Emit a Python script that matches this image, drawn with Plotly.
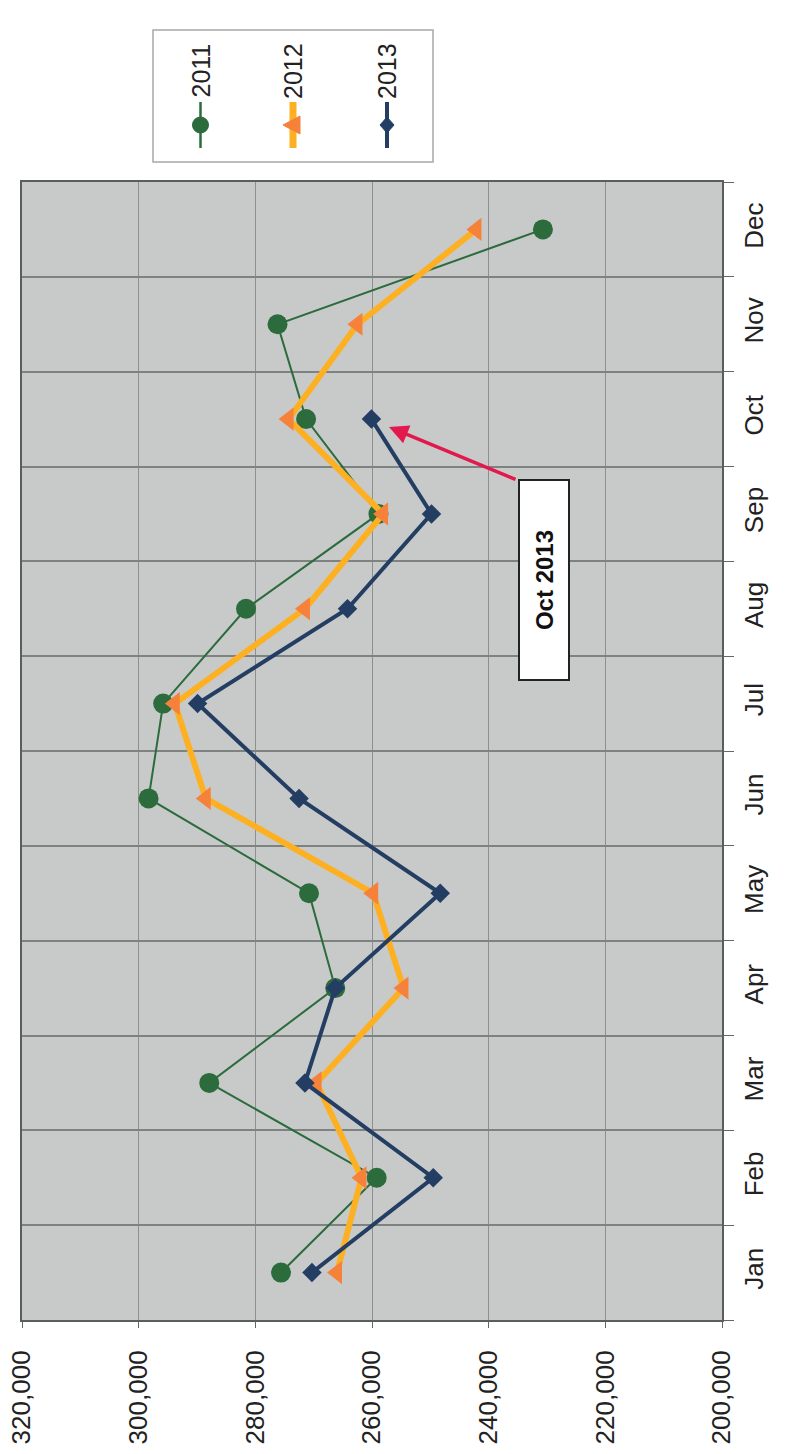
import plotly.graph_objects as go

months = ["Jan", "Feb", "Mar", "Apr", "May", "Jun", "Jul", "Aug", "Sep", "Oct", "Nov", "Dec"]
v2011 = [275600, 259200, 287900, 266300, 270800, 298300, 295800, 281600, 258900, 271300, 276200, 230700]
v2012 = [266000, 261800, 269500, 254600, 259800, 288500, 293800, 271500, 258100, 274300, 262500, 242100]
v2013 = [270300, 249500, 271500, 266300, 248300, 272500, 289900, 264200, 249800, 260100, None, None]
value_ticks = [200000, 220000, 240000, 260000, 280000, 300000, 320000]
series_names = ["2011", "2012", "2013"]

GREEN = "#2B6B3C"
ORANGE_LINE = "#FDB022"
ORANGE_MK = "#F5813A"
NAVY = "#243E63"
FONT = "Liberation Sans, Arial, sans-serif"

W, H = 798, 1454
L, R, T, B = 22, 76, 182, 134
PW = W - L - R
PH = H - T - B


def px(xp):
    return (xp - L) / PW


def py(yp):
    return (H - B - yp) / PH


fig = go.Figure()
fig.add_trace(go.Scatter(x=v2011, y=months, mode="lines+markers", name=series_names[0],
                         line=dict(color=GREEN, width=2),
                         marker=dict(symbol="circle", size=20, color=GREEN)))
fig.add_trace(go.Scatter(x=v2012, y=months, mode="lines+markers", name=series_names[1],
                         line=dict(color=ORANGE_LINE, width=6),
                         marker=dict(symbol="triangle-left", size=20, color=ORANGE_MK)))
fig.add_trace(go.Scatter(x=v2013, y=months, mode="lines+markers", name=series_names[2],
                         line=dict(color=NAVY, width=4),
                         marker=dict(symbol="diamond", size=15, color=NAVY)))

shapes = []
annotations = []

# manual rotated legend
shapes.append(dict(type="rect", xref="paper", yref="paper",
                   x0=px(153), x1=px(433), y0=py(162), y1=py(30),
                   line=dict(color="#A8A8A8", width=1.5), fillcolor="white", layer="above"))
leg_x = [200.5, 293, 387]
leg_col = [GREEN, ORANGE_LINE, NAVY]
leg_w = [2.5, 7, 4]
for i in range(3):
    shapes.append(dict(type="line", xref="paper", yref="paper",
                       x0=px(leg_x[i]), x1=px(leg_x[i]), y0=py(102), y1=py(148),
                       line=dict(color=leg_col[i], width=leg_w[i]), layer="above"))
    annotations.append(dict(xref="paper", yref="paper", x=px(leg_x[i]), y=py(71),
                            xanchor="center", yanchor="middle",
                            text=series_names[i], textangle=-90, showarrow=False,
                            font=dict(family=FONT, size=25, color="#222222")))
# legend markers
shapes.append(dict(type="circle", xref="paper", yref="paper", xsizemode="pixel", ysizemode="pixel",
                   xanchor=px(leg_x[0]), yanchor=py(125), x0=-8, x1=8, y0=-8, y1=8,
                   fillcolor=GREEN, line=dict(color=GREEN, width=1), layer="above"))
shapes.append(dict(type="path", xref="paper", yref="paper", xsizemode="pixel", ysizemode="pixel",
                   xanchor=px(leg_x[1]), yanchor=py(125),
                   path="M -10 0 L 7 -9 L 7 9 Z",
                   fillcolor=ORANGE_MK, line=dict(color=ORANGE_MK, width=1), layer="above"))
shapes.append(dict(type="path", xref="paper", yref="paper", xsizemode="pixel", ysizemode="pixel",
                   xanchor=px(leg_x[2]), yanchor=py(125),
                   path="M 0 -8 L 7 0 L 0 8 L -7 0 Z",
                   fillcolor=NAVY, line=dict(color=NAVY, width=1), layer="above"))

# callout box
annotations.append(dict(xref="paper", yref="paper", x=px(544), y=py(580),
                        xanchor="center", yanchor="middle",
                        text="<b>Oct 2013</b>", textangle=-90, showarrow=False,
                        width=196, height=46, bgcolor="white", bordercolor="#222222", borderwidth=2,
                        font=dict(family=FONT, size=24, color="#111111")))
# red arrow
annotations.append(dict(xref="paper", yref="paper", x=px(389), y=py(427),
                        ax=128, ay=53, text="", showarrow=True,
                        arrowhead=2, arrowsize=1.1, arrowwidth=3.5, arrowcolor="#E2194C"))

fig.update_layout(
    template="none",
    width=W, height=H,
    margin=dict(l=L, r=R, t=T, b=B, pad=0, autoexpand=False),
    paper_bgcolor="white",
    plot_bgcolor="#C8CACA",
    showlegend=False,
    shapes=shapes,
    annotations=annotations,
    font=dict(family=FONT, size=25, color="#222222"),
)
fig.update_xaxes(range=[320000, 200000], tickvals=value_ticks, tickformat=",",
                 tickangle=-90, ticks="outside", ticklen=6, tickcolor="#666666",
                 ticklabelstandoff=12,
                 showgrid=True, gridcolor="#8E9090", gridwidth=1, automargin=False,
                 showline=True, linecolor="#5A5E5C", linewidth=2, mirror=True,
                 zeroline=False, tickfont=dict(family=FONT, size=26, color="#222222"))
fig.update_yaxes(type="category", categoryorder="array", categoryarray=months,
                 range=[-0.5, 11.5], side="right", tickangle=-90, tickson="boundaries",
                 ticks="outside", ticklen=10, tickcolor="#666666", automargin=False,
                 ticklabelstandoff=8,
                 showgrid=True, gridcolor="#7E8280", gridwidth=1.5,
                 showline=True, linecolor="#5A5E5C", linewidth=2, mirror=True,
                 zeroline=False, tickfont=dict(family=FONT, size=26, color="#222222"))

fig.write_html("out.html", config={"displayModeBar": False},
               post_script="document.body.style.margin='0px';")
